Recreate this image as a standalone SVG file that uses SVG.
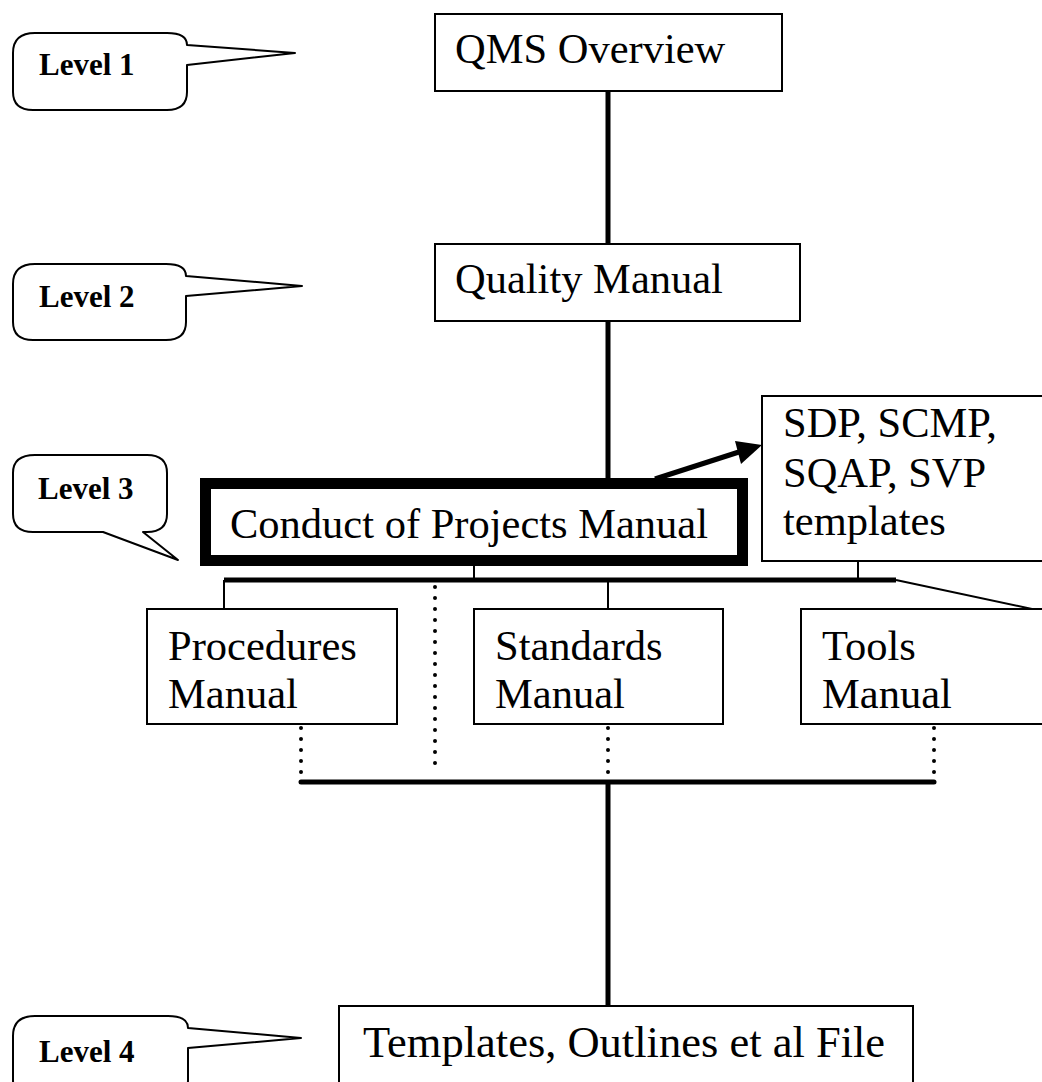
<svg xmlns="http://www.w3.org/2000/svg" width="1042" height="1082" viewBox="0 0 1042 1082">
<style>
.box{fill:#fff;stroke:#000;stroke-width:2}
.t{font-family:"Liberation Serif","Times New Roman",serif;font-size:42.5px;fill:#000}
.lv{font-family:"Liberation Serif","Times New Roman",serif;font-size:31px;font-weight:bold;fill:#000}
.bub{fill:#fff;stroke:#000;stroke-width:2;stroke-linejoin:round}
.thick{stroke:#000;stroke-width:5;fill:none}
.thin{stroke:#000;stroke-width:2;fill:none}
.dot{stroke:#000;stroke-width:4;stroke-dasharray:0 11;stroke-linecap:round;fill:none}
</style>
<rect width="1042" height="1082" fill="#fff"/>
<g id="connectors">
<line class="thick" x1="608" y1="91" x2="608" y2="244"/>
<line class="thick" x1="608" y1="321" x2="608" y2="493"/>
<line class="thick" x1="655" y1="479" x2="742" y2="451"/>
<polygon points="762,445 735,441 741,464" fill="#000"/>
<line class="thin" x1="474" y1="566" x2="474" y2="580"/>
<line class="thin" x1="858" y1="561" x2="858" y2="580"/>
<line class="thick" x1="224" y1="580" x2="896" y2="580"/>
<line class="thin" x1="224" y1="580" x2="224" y2="609"/>
<line class="thin" x1="608" y1="580" x2="608" y2="609"/>
<line class="thin" x1="896" y1="580" x2="1032" y2="609"/>
<line class="dot" x1="435" y1="587" x2="435" y2="774"/>
<line class="dot" x1="301" y1="728" x2="301" y2="775"/>
<line class="dot" x1="608" y1="728" x2="608" y2="775"/>
<line class="dot" x1="934" y1="728" x2="934" y2="775"/>
<line class="thick" x1="301" y1="782" x2="934" y2="782" stroke-linecap="round"/>
<line class="thick" x1="608" y1="782" x2="608" y2="1012"/>
</g>
<g id="level1">
<path class="bub" d="M35,33 H167 Q187,33 187,45 L295,53 L187,65 V92 Q187,110 167,110 H33 Q13,110 13,92 V53 Q13,33 35,33 Z"/>
<text class="lv" x="39" y="75">Level 1</text>
</g>
<g id="level2">
<path class="bub" d="M35,264 H166 Q186,264 186,276 L302,286 L186,296 V322 Q186,340 166,340 H33 Q13,340 13,322 V284 Q13,264 35,264 Z"/>
<text class="lv" x="39" y="307">Level 2</text>
</g>
<g id="level3">
<path class="bub" d="M35,455 H147 Q167,455 167,473 V514 Q167,532 147,532 H143 L178,560 L103,532 H33 Q13,532 13,514 V473 Q13,455 35,455 Z"/>
<text class="lv" x="38" y="499">Level 3</text>
</g>
<g id="level4">
<path class="bub" d="M35,1016 H168 Q188,1016 188,1028 L301,1038 L188,1048 V1080 Q188,1098 168,1098 H33 Q13,1098 13,1080 V1036 Q13,1016 35,1016 Z"/>
<text class="lv" x="39" y="1062">Level 4</text>
</g>
<g id="qms">
<rect class="box" x="435" y="14" width="347" height="77"/>
<text class="t" x="455" y="63">QMS Overview</text>
</g>
<g id="quality">
<rect class="box" x="435" y="244" width="365" height="77"/>
<text class="t" x="455" y="293">Quality Manual</text>
</g>
<g id="conduct">
<rect x="205.5" y="483.5" width="537" height="77" fill="#fff" stroke="#000" stroke-width="11"/>
<text class="t" x="230" y="538">Conduct of Projects Manual</text>
</g>
<g id="sdp">
<rect class="box" x="762" y="396" width="290" height="165"/>
<text class="t" x="783" y="437">SDP, SCMP,</text>
<text class="t" x="783" y="487">SQAP, SVP</text>
<text class="t" x="783" y="535">templates</text>
</g>
<g id="procedures">
<rect class="box" x="147" y="609" width="250" height="115"/>
<text class="t" x="168" y="660">Procedures</text>
<text class="t" x="168" y="708">Manual</text>
</g>
<g id="standards">
<rect class="box" x="474" y="609" width="249" height="115"/>
<text class="t" x="495" y="660">Standards</text>
<text class="t" x="495" y="708">Manual</text>
</g>
<g id="tools">
<rect class="box" x="801" y="609" width="250" height="115"/>
<text class="t" x="822" y="660">Tools</text>
<text class="t" x="822" y="708">Manual</text>
</g>
<g id="templates">
<rect class="box" x="339" y="1006" width="574" height="100"/>
<text class="t" x="363" y="1057" style="font-size:44.5px">Templates, Outlines et al File</text>
</g>
</svg>
